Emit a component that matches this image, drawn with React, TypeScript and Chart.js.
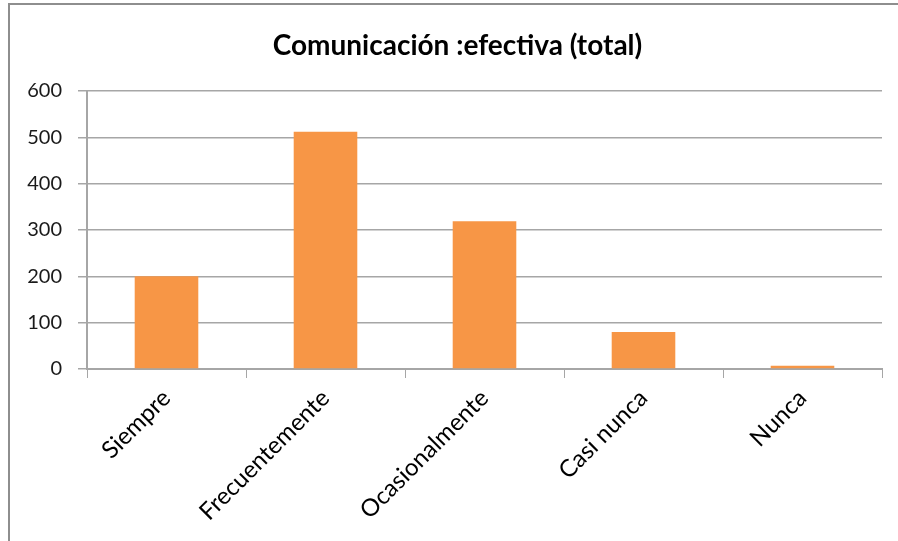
import React, { useEffect, useRef } from "react";
import { Chart, registerables } from "chart.js";

Chart.register(...registerables);

const categories = ["Siempre", "Frecuentemente", "Ocasionalmente", "Casi nunca", "Nunca"];
const totals = [200, 512, 319, 80, 7];
const yTicks = [0, 100, 200, 300, 400, 500, 600];
const chartTitle = "Comunicación :efectiva (total)";

const FONT = "Lato, 'Open Sans', sans-serif";

// White page with a grey frame running off the right and bottom edges
const framePlugin = {
  id: "frame",
  beforeDraw(chart: Chart) {
    const { ctx, width, height } = chart;
    ctx.save();
    ctx.fillStyle = "#ffffff";
    ctx.fillRect(0, 0, width, height);
    ctx.strokeStyle = "#8e8e8e";
    ctx.lineWidth = 2;
    ctx.beginPath();
    ctx.moveTo(9, height + 2);
    ctx.lineTo(9, 4);
    ctx.lineTo(width + 2, 4);
    ctx.stroke();
    ctx.restore();
  },
};

// Title centred over the framed area (frame starts at x = 9, right edge runs off the page)
const headingPlugin = {
  id: "heading",
  afterDraw(chart: Chart) {
    const { ctx, width } = chart;
    ctx.save();
    ctx.fillStyle = "#000000";
    ctx.font = `bold 28px ${FONT}`;
    ctx.textAlign = "center";
    ctx.textBaseline = "middle";
    ctx.fillText(chartTitle, (9 + width + 8) / 2, 46);
    ctx.restore();
  },
};

export default function App() {
  const canvasRef = useRef<HTMLCanvasElement | null>(null);

  useEffect(() => {
    if (!canvasRef.current) return;
    const chart = new Chart(canvasRef.current, {
      type: "bar",
      data: {
        labels: categories,
        datasets: [
          {
            label: "Total",
            data: totals,
            backgroundColor: "#F79646",
            borderWidth: 0,
            categoryPercentage: 1,
            barPercentage: 0.4,
          },
        ],
      },
      plugins: [framePlugin, headingPlugin],
      options: {
        animation: false,
        responsive: true,
        maintainAspectRatio: false,
        layout: { padding: { left: 0, right: 16, top: 91, bottom: 0 } },
        plugins: {
          legend: { display: false },
          tooltip: { enabled: false },
          title: { display: false },
        },
        scales: {
          x: {
            afterFit(scale: any) {
              scale.height = 172;
            },
            grid: {
              display: true,
              drawOnChartArea: false,
              drawTicks: true,
              tickLength: 9,
              color: "#a6a6a6",
              offset: true,
            },
            border: { display: true, color: "#a6a6a6", width: 2 },
            ticks: {
              color: "#000000",
              font: { family: FONT, size: 24 },
              minRotation: 45,
              maxRotation: 45,
              padding: 6,
              autoSkip: false,
            },
          },
          y: {
            min: 0,
            max: 600,
            afterFit(scale: any) {
              scale.width = 87;
            },
            afterBuildTicks(scale: any) {
              scale.ticks = yTicks.map((v) => ({ value: v }));
            },
            grid: {
              color: "#a6a6a6",
              lineWidth: 1.5,
              drawTicks: true,
              tickLength: 9,
            },
            border: { display: true, color: "#a6a6a6", width: 2 },
            ticks: {
              color: "#1a1a1a",
              font: { family: FONT, size: 20 },
              padding: 16,
            },
          },
        },
      },
    });
    return () => chart.destroy();
  }, []);

  return (
    <div style={{ position: "absolute", left: 0, top: 0, width: 898, height: 541, background: "#fff" }}>
      <canvas ref={canvasRef} />
    </div>
  );
}
